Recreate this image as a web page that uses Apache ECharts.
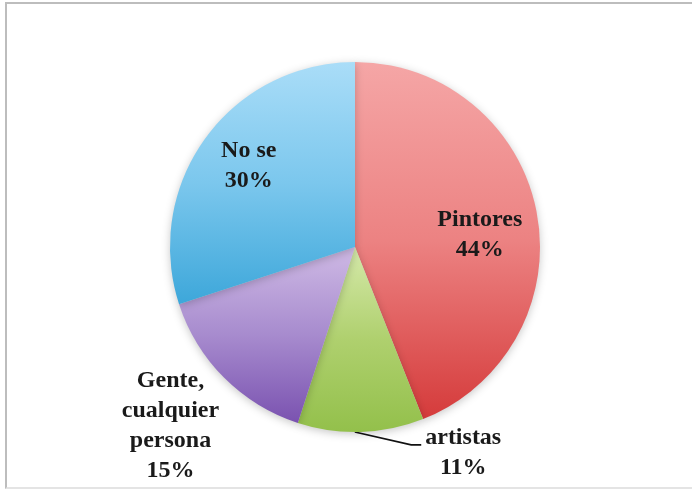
<!DOCTYPE html>
<html>
<head>
<meta charset="utf-8">
<script src="https://cdn.jsdelivr.net/npm/echarts@6/dist/echarts.min.js"></script>
<style>
  html, body { margin: 0; padding: 0; background: #fff; overflow: hidden; }
  #frame { position: absolute; left: 5px; top: 2px; width: 800px; height: 487px; border: 2px solid #bdbdbd; border-right: none; border-bottom-color: #e4e4e4; box-sizing: border-box; }
  #chart { position: absolute; left: 0; top: 0; width: 692px; height: 490px; }
</style>
</head>
<body>
<div id="frame"></div>
<div id="chart"></div>
<script>
// ---- data ----
const categories = ['Pintores', 'artistas', 'Gente, cualquier persona', 'No se'];
const labelNames = ['Pintores', 'artistas', 'Gente,\ncualquier\npersona', 'No se'];
const values = [44, 11, 15, 30];

// ---- styles ----
const gradients = [
  ['#F5A6A6', '#EC8282', '#D53B3B'],
  ['#D5E9AA', '#AFD06E', '#93C04B'],
  ['#CFBAE5', '#A78BCE', '#7A52B0'],
  ['#AADDF8', '#7BC7ED', '#3DA7DA']
];
// label offsets (dx, dy) from ECharts' default inside label spot
const labelOffsets = [[31, 6], null, [-117, 111], [-29, -25]];

const FONT = "'Liberation Serif', serif";

const seriesData = categories.map(function (c, i) {
  const g = gradients[i];
  const item = {
    name: c,
    value: values[i],
    itemStyle: {
      color: new echarts.graphic.LinearGradient(0, 0, 0, 1, [
        { offset: 0, color: g[0] },
        { offset: 0.5, color: g[1] },
        { offset: 1, color: g[2] }
      ])
    }
  };
  if (i === 1) {
    item.label = {
      position: 'outside',
      formatter: function (p) { return '{c|' + labelNames[p.dataIndex] + '}\n{c|' + Math.round(p.percent) + '%}'; },
      padding: [16, 0, 0, 0],
      distanceToLabelLine: 3,
      rich: { c: { width: 78, align: 'center', fontFamily: FONT, fontSize: 24, fontWeight: 'bold', color: '#1a1a1a', lineHeight: 30 } }
    };
    item.labelLine = { show: true, length: 13, length2: 60, lineStyle: { color: '#111', width: 1.6 } };
  } else {
    item.labelLine = { show: false };
  }
  return item;
});

const chart = echarts.init(document.getElementById('chart'), null, { renderer: 'canvas' });
chart.setOption({
  animation: false,
  backgroundColor: 'transparent',
  series: [{
    type: 'pie',
    center: [355, 247],
    radius: 185,
    startAngle: 90,
    clockwise: true,
    avoidLabelOverlap: false,
    itemStyle: {
      borderWidth: 0,
      shadowBlur: 8,
      shadowColor: 'rgba(0,0,0,0.22)',
      shadowOffsetY: 2
    },
    label: {
      show: true,
      position: 'inside',
      formatter: function (p) { return labelNames[p.dataIndex] + '\n' + Math.round(p.percent) + '%'; },
      fontFamily: FONT,
      fontSize: 24,
      fontWeight: 'bold',
      color: '#1a1a1a',
      lineHeight: 30,
      align: 'center'
    },
    labelLayout: function (params) {
      const o = labelOffsets[params.dataIndex];
      if (o) return { dx: o[0], dy: o[1] };
      const pts = params.labelLinePoints;
      if (pts && pts.length === 3) {
        return {
          labelLinePoints: [
            [pts[0][0] - 6, pts[0][1]],
            [pts[2][0] - 10, pts[1][1]],
            [pts[2][0], pts[2][1]]
          ]
        };
      }
      return {};
    },
    emphasis: { disabled: true },
    data: seriesData
  }]
});
</script>
</body>
</html>
